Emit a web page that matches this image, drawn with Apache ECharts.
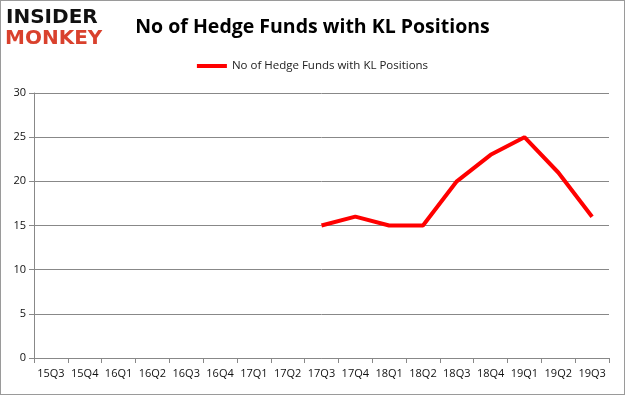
<!DOCTYPE html>
<html><head><meta charset="utf-8">
<script src="https://cdn.jsdelivr.net/npm/echarts@6/dist/echarts.min.js"></script>
<style>html,body{margin:0;padding:0;background:#fff}#c{width:625px;height:395px;box-sizing:border-box;border:1px solid #9a9a9a}</style>
</head><body><div id="c"></div>
<script>
const categories = ['15Q3','15Q4','16Q1','16Q2','16Q3','16Q4','17Q1','17Q2','17Q3','17Q4','18Q1','18Q2','18Q3','18Q4','19Q1','19Q2','19Q3'];
const values = [null,null,null,null,null,null,null,null,15,16,15,15,20,23,25,21,16];
const yTicks = {min:0,max:30,interval:5};
const seriesName = 'No of Hedge Funds with KL Positions';

const chart = echarts.init(document.getElementById('c'), null, {renderer:'canvas'});
chart.setOption({
  animation:false,
  title:{text:'No of Hedge Funds with KL Positions',left:'center',top:11,
    textStyle:{fontFamily:'Open Sans, Liberation Sans, sans-serif',fontWeight:'bold',fontSize:19.5,color:'#000'}},
  graphic:[
    {type:'text',left:5,top:7,style:{text:'INSIDER',font:'bold 20px "DejaVu Sans", sans-serif',fill:'#111'}},
    {type:'text',left:4,top:28,style:{text:'MONKEY',font:'bold 20px "DejaVu Sans", sans-serif',fill:'#d9412d'}}
  ],
  legend:{top:54,left:'center',itemWidth:30,itemHeight:4,icon:'rect',itemGap:10,
    textStyle:{fontFamily:'Open Sans, Liberation Sans, sans-serif',fontSize:11.5,color:'#222'},
    data:[seriesName]},
  grid:{left:33,right:15,top:92,bottom:36},
  xAxis:{type:'category',data:categories,boundaryGap:true,
    axisLine:{lineStyle:{color:'#888'}},
    axisTick:{show:true,alignWithLabel:false,length:5,lineStyle:{color:'#888'}},
    axisLabel:{color:'#111',fontSize:11,fontFamily:'Open Sans, Liberation Sans, sans-serif',margin:10,interval:0}},
  yAxis:{type:'value',min:yTicks.min,max:yTicks.max,interval:yTicks.interval,
    axisLine:{show:true,lineStyle:{color:'#888'}},
    axisTick:{show:true,length:5,lineStyle:{color:'#888'}},
    splitLine:{lineStyle:{color:'#888'}},
    axisLabel:{color:'#111',fontSize:11,fontFamily:'Open Sans, Liberation Sans, sans-serif',margin:8}},
  series:[{name:seriesName,type:'line',data:values,connectNulls:false,showSymbol:false,symbol:'none',
    lineStyle:{color:'#ff0000',width:4},itemStyle:{color:'#ff0000'}}]
});
</script></body></html>
